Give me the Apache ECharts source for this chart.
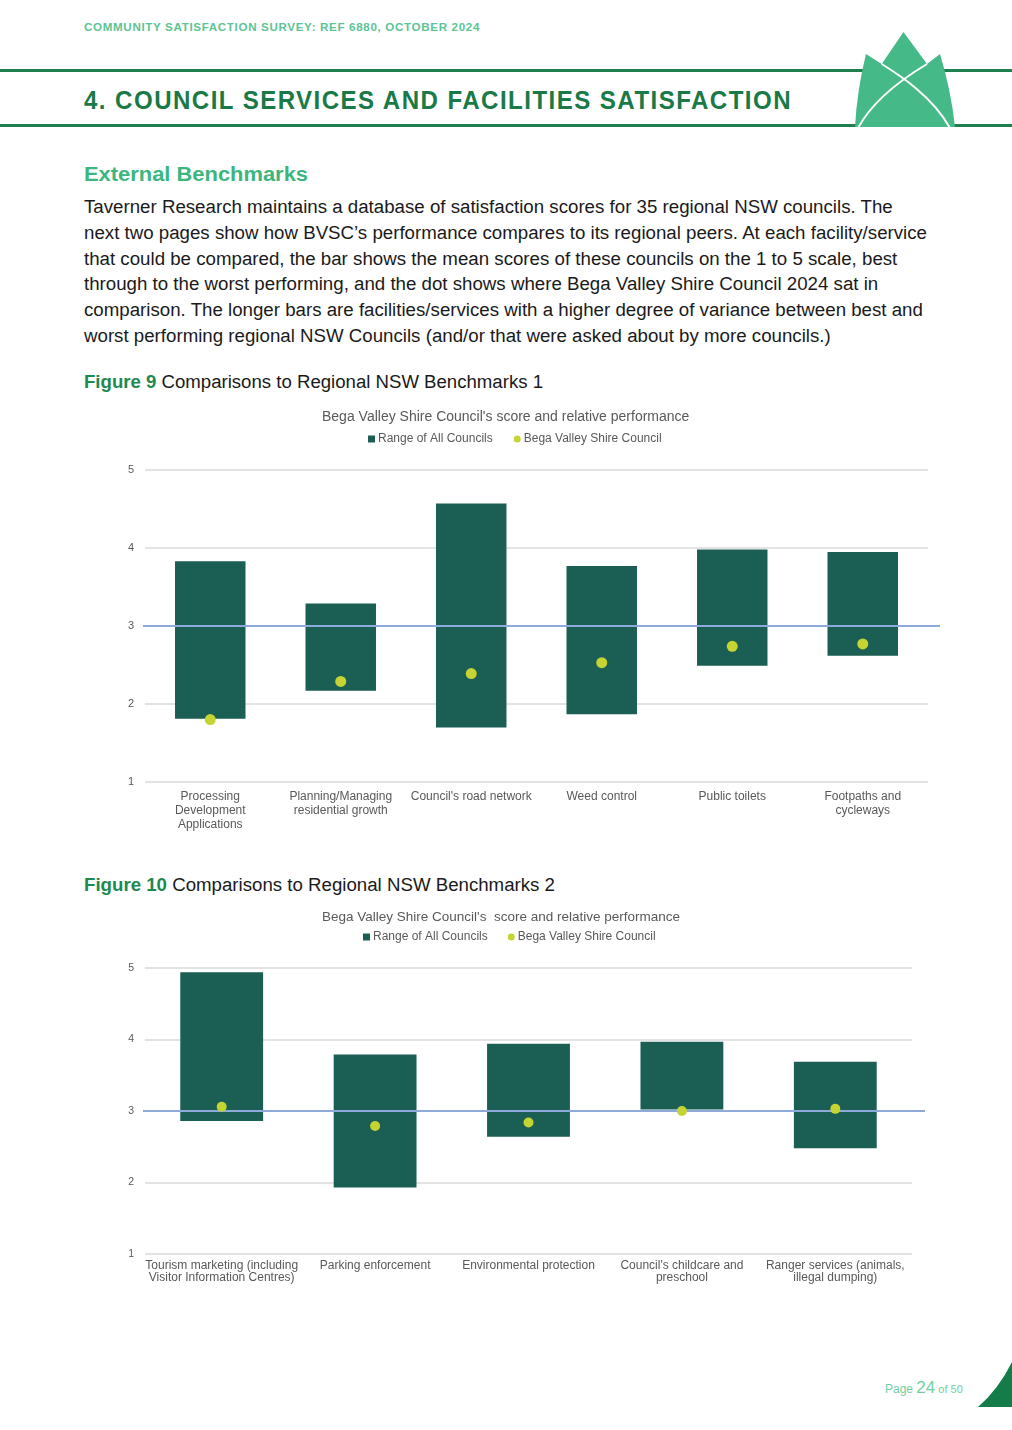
<!DOCTYPE html>
<html><head><meta charset="utf-8">
<script src="https://cdn.jsdelivr.net/npm/echarts@6/dist/echarts.min.js"></script>
<style>
body{margin:0;width:1012px;height:1430px;position:relative;background:#fff;font-family:"Liberation Sans",Arial,sans-serif;overflow:hidden}
.abs{position:absolute;white-space:nowrap}
.chart{position:absolute;left:0;width:1012px}
</style></head><body>

<svg class="abs" style="left:0;top:0" width="1012" height="140">
  <rect x="0" y="69" width="1012" height="3" fill="#1f7f50"/>
  <rect x="0" y="124" width="1012" height="3" fill="#1f7f50"/>
  <path d="M855,127 Q857,90 866,54 L881.7,64 L903.5,32 L927,64 L940,54 Q951,90 955,127 Z" fill="#45b987"/>
  <path d="M881.7,64 C896,73 932,95 950,128" stroke="#fff" stroke-width="2" fill="none"/>
  <path d="M927,64 C912,73 876,95 858,128" stroke="#fff" stroke-width="2" fill="none"/>
</svg>

<div class="abs" data-w="396" style="left:84px;top:21px;font-size:10.5px;line-height:12px;font-weight:bold;color:#5cc495;letter-spacing:0.6px">COMMUNITY SATISFACTION SURVEY: REF 6880, OCTOBER 2024</div>
<div class="abs" data-w="708" style="left:84px;top:86px;font-size:25px;line-height:28px;font-weight:bold;color:#1a7a47;letter-spacing:1.5px">4. COUNCIL SERVICES AND FACILITIES SATISFACTION</div>

<div class="abs" data-w="224" style="left:84px;top:162px;font-size:20px;line-height:24px;font-weight:bold;color:#3cb67e">External Benchmarks</div>
<div class="abs" data-w="843" style="left:84px;top:195px;font-size:18px;line-height:25.8px;color:#1a1a1a">Taverner Research maintains a database of satisfaction scores for 35 regional NSW councils. The<br>next two pages show how BVSC’s performance compares to its regional peers. At each facility/service<br>that could be compared, the bar shows the mean scores of these councils on the 1 to 5 scale, best<br>through to the worst performing, and the dot shows where Bega Valley Shire Council 2024 sat in<br>comparison. The longer bars are facilities/services with a higher degree of variance between best and<br>worst performing regional NSW Councils (and/or that were asked about by more councils.)</div>

<div class="abs" data-w="459" style="left:84px;top:370px;font-size:18px;line-height:25.8px;color:#1a1a1a"><b style="color:#1e8a4f">Figure 9</b> Comparisons to Regional NSW Benchmarks 1</div>
<div class="abs" data-w="471" style="left:84px;top:873px;font-size:18px;line-height:25.8px;color:#1a1a1a"><b style="color:#1e8a4f">Figure 10</b> Comparisons to Regional NSW Benchmarks 2</div>

<div id="c1" class="chart" style="top:395px;height:450px"></div>
<div id="c2" class="chart" style="top:890px;height:420px"></div>

<div class="abs" style="left:885px;top:1378px;color:#72cfa2;line-height:20px"><span style="font-size:12px">Page </span><span style="font-size:17px">24</span><span style="font-size:11px"> of 50</span></div>
<svg class="abs" style="left:970px;top:1358px" width="42" height="50"><path d="M8,49 Q28,32 42,4 L42,49 Z" fill="#137c49"/></svg>

<script>
// ---------- Figure 9 data ----------
const cats1 = ['Processing\nDevelopment\nApplications', 'Planning/Managing\nresidential growth', "Council's road network", 'Weed control', 'Public toilets', 'Footpaths and\ncycleways'];
const low1 = [1.81, 2.17, 1.70, 1.87, 2.49, 2.62];
const high1 = [3.83, 3.29, 4.57, 3.77, 3.98, 3.95];
const bvsc1 = [1.80, 2.29, 2.39, 2.53, 2.74, 2.77];

// ---------- Figure 10 data ----------
const cats2 = ['Tourism marketing (including\nVisitor Information Centres)', 'Parking enforcement', 'Environmental protection', "Council's childcare and\npreschool", 'Ranger services (animals,\nillegal dumping)'];
const low2 = [2.86, 1.93, 2.64, 3.02, 2.48];
const high2 = [4.94, 3.79, 3.94, 3.97, 3.69];
const bvsc2 = [3.06, 2.79, 2.84, 3.00, 3.03];

const yTicks = [1, 2, 3, 4, 5];
const refValue = 3;
const rangeName = 'Range of All Councils';
const dotName = 'Bega Valley Shire Council';

document.querySelectorAll('[data-w]').forEach(el => {
  const w = el.getBoundingClientRect().width;
  el.style.transformOrigin = '0 0';
  el.style.transform = 'scaleX(' + (+el.dataset.w / w) + ')';
});

function build(cfg, cats, lows, highs, dots) {
  return {
    animation: false,
    title: {
      text: cfg.title, left: cfg.titleLeft, top: cfg.titleTop, padding: 0,
      textStyle: { fontFamily: 'Liberation Sans', fontSize: cfg.titleSize, fontWeight: 'normal', color: '#595959' }
    },
    legend: {
      left: cfg.legendLeft, top: cfg.legendTop, padding: 0, itemGap: cfg.legendGap,
      itemWidth: 7, itemHeight: 7,
      textStyle: { fontFamily: 'Liberation Sans', fontSize: cfg.legendSize, color: '#595959', padding: [0, 0, 0, -2] },
      data: [{ name: rangeName, icon: 'rect' }, { name: dotName, icon: 'circle' }]
    },
    grid: { left: 145, top: cfg.gridTop, width: cfg.gridWidth, height: cfg.gridHeight },
    xAxis: {
      type: 'category', data: cats,
      axisLine: { show: false }, axisTick: { show: false },
      axisLabel: { interval: 0, color: '#595959', fontFamily: 'Liberation Sans', fontSize: cfg.xSize, lineHeight: cfg.xLine, margin: cfg.xMargin }
    },
    yAxis: {
      type: 'value', min: yTicks[0], max: yTicks[yTicks.length - 1], interval: 1,
      axisLine: { show: false }, axisTick: { show: false },
      axisLabel: { color: '#595959', fontFamily: 'Liberation Sans', fontSize: cfg.ySize, margin: 11 },
      splitLine: { lineStyle: { color: '#dadada', width: 1.5 } }
    },
    series: [
      { name: 'base', type: 'bar', stack: 'r', barWidth: '54%', silent: true,
        itemStyle: { color: 'rgba(0,0,0,0)' }, data: lows },
      { name: rangeName, type: 'bar', stack: 'r', barWidth: '54%', z: 2,
        itemStyle: { color: '#1b5e53' },
        data: highs.map((h, i) => +(h - lows[i]).toFixed(2)),
        markLine: {
          silent: true, symbol: ['none', 'none'], label: { show: false },
          lineStyle: { color: '#8eaadb', width: 2, type: 'solid' },
          data: [[{ yAxis: refValue, x: 143 }, { yAxis: refValue, x: cfg.refEnd }]]
        }
      },
      { name: dotName, type: 'scatter', z: 5, symbolSize: cfg.dot,
        itemStyle: { color: '#c5d432', opacity: 1 }, data: dots }
    ]
  };
}

echarts.init(document.getElementById('c1')).setOption(build({
  title: "Bega Valley Shire Council's score and relative performance",
  titleLeft: 322, titleTop: 15, titleSize: 14, legendLeft: 368, legendTop: 38, legendGap: 21, legendSize: 12,
  gridTop: 75, gridWidth: 783, gridHeight: 312, xSize: 12, xLine: 14, xMargin: 8, ySize: 11,
  refEnd: 940, dot: 11
}, cats1, low1, high1, bvsc1));

echarts.init(document.getElementById('c2')).setOption(build({
  title: "Bega Valley Shire Council's  score and relative performance",
  titleLeft: 322, titleTop: 20, titleSize: 13.5, legendLeft: 363, legendTop: 41, legendGap: 20, legendSize: 12,
  gridTop: 78, gridWidth: 767, gridHeight: 286, xSize: 12, xLine: 11.5, xMargin: 6, ySize: 10.5,
  refEnd: 925, dot: 10
}, cats2, low2, high2, bvsc2));
</script>
</body></html>
